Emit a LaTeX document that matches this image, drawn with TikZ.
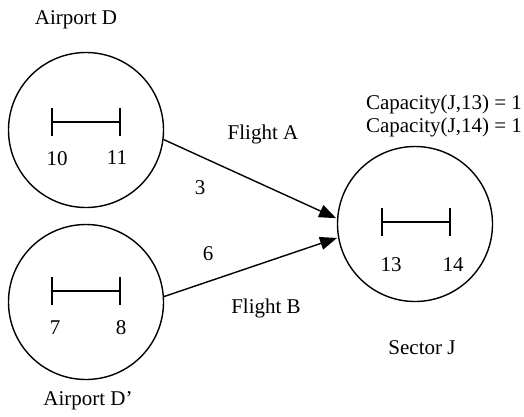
\documentclass[tikz,border=0pt]{standalone}
\usepackage{fontspec}
\setmainfont{Liberation Serif}
\usetikzlibrary{arrows.meta}
\tikzset{
  every node/.style={font=\fontsize{21}{23}\selectfont},
  region/.style={circle, draw, line width=1.4pt, minimum size=155pt, inner sep=0pt},
  flight/.style={line width=1.4pt, -{Triangle[length=17pt, width=13pt]}, shorten >=1pt},
  lbl/.style={inner sep=0pt, align=center},
  span/.pic={
    \draw[line width=1.4pt] (-34,0) -- (34,0);
    \draw[line width=1.4pt] (-34,-14) -- (-34,14);
    \draw[line width=1.4pt] (34,-14) -- (34,14);
  }
}
\begin{document}
\begin{tikzpicture}[x=1pt, y=-1pt]
\useasboundingbox (0,0) rectangle (524,416);

% regions
\node[region] (D)  at (86,130) {};
\node[region] (Dp) at (86,302) {};
\node[region] (J)  at (415,224) {};

% time intervals inside each region
\pic at (86,122) {span};
\pic at (86,291) {span};
\pic at (416,222) {span};

\node[lbl] (t10) at (57,159) {10};
\node[lbl] (t11) at (117,158) {11};
\node[lbl] (t7)  at (55,328) {7};
\node[lbl] (t8)  at (121,328) {8};
\node[lbl] (t13) at (391,265) {13};
\node[lbl] (t14) at (453,265) {14};

% region names
\node[lbl] (nD)  at (76,20)  {Airport D};
\node[lbl] (nDp) at (88,401) {Airport D’};
\node[lbl] (nJ)  at (422,348) {Sector J};
\node[lbl] (cap) at (444,116) {Capacity(J,13) = 1\\Capacity(J,14) = 1};

% flights
\draw[flight] (D.-7) -- (J.176);
\draw[flight] (Dp.4) -- (J.-170);

\node[lbl] (fA) at (263,134) {Flight A};
\node[lbl] (fB) at (266,308) {Flight B};
\node[lbl] (w3) at (200,188) {3};
\node[lbl] (w6) at (208,254) {6};
\end{tikzpicture}
\end{document}
